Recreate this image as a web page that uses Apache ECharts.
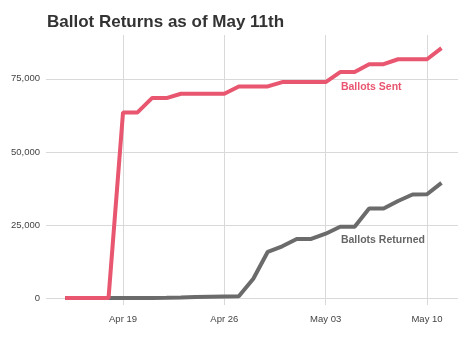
<!DOCTYPE html>
<html><head><meta charset="utf-8">
<script src="https://cdn.jsdelivr.net/npm/echarts@6/dist/echarts.min.js"></script>
<style>html,body{margin:0;padding:0;background:#fff}#c{width:474px;height:338px}</style>
</head><body><div id="c"></div>
<script>
// Days from Apr 15 to May 11 (index 0 = Apr 15)
const dayLabels = ['Apr 15','Apr 16','Apr 17','Apr 18','Apr 19','Apr 20','Apr 21','Apr 22','Apr 23','Apr 24','Apr 25','Apr 26','Apr 27','Apr 28','Apr 29','Apr 30','May 01','May 02','May 03','May 04','May 05','May 06','May 07','May 08','May 09','May 10','May 11'];
const ballotsSent = [0,0,0,0,63500,63500,68400,68400,69900,69900,69900,69900,72400,72400,72400,73900,73900,73900,73900,77300,77300,80000,80000,81700,81700,81700,85500];
const ballotsReturned = [0,0,0,0,0,0,0,50,150,300,400,500,600,6600,15800,17700,20200,20200,22000,24400,24400,30600,30600,33200,35400,35500,39400];
const xTickDays = [4,11,18,25];
const xTickLabels = ['Apr 19','Apr 26','May 03','May 10'];
const yTicks = [0,25000,50000,75000];

const sentData = ballotsSent.map((v,i)=>[i,v]);
const retData = ballotsReturned.map((v,i)=>[i,v]);
const pink = '#e8566f', gray = '#6b6b6b';
const chart = echarts.init(document.getElementById('c'));
chart.setOption({
  animation:false,
  title:{text:'Ballot Returns as of May 11th',left:42,top:9,textStyle:{fontFamily:'Liberation Sans',fontWeight:'bold',fontSize:17,color:'#333'}},
  grid:{left:46,right:16,top:35,bottom:33,containLabel:false},
  xAxis:{type:'value',min:-1.32,max:27.14,
    axisLine:{show:false},axisTick:{show:false,customValues:xTickDays},
    axisLabel:{customValues:xTickDays,formatter:v=>xTickLabels[xTickDays.indexOf(Math.round(v))]||'',fontFamily:'Liberation Sans',fontSize:9.5,color:'#444',margin:9},
    splitLine:{show:true,lineStyle:{color:'#d9d9d9',width:1}}},
  yAxis:{type:'value',min:-2400,max:90000,
    axisLine:{show:false},axisTick:{show:false,customValues:yTicks},
    axisLabel:{customValues:yTicks,formatter:v=>v.toLocaleString('en-US'),fontFamily:'Liberation Sans',fontSize:9.5,color:'#444',margin:6},
    splitLine:{show:true,lineStyle:{color:'#d9d9d9',width:1}}},
  series:[
    {type:'line',name:'Ballots Returned',data:retData,symbol:'none',lineStyle:{color:gray,width:4},z:2,
     markPoint:{symbol:'circle',symbolSize:0,data:[{coord:[19.05,19900],label:{show:true,position:'right',distance:0,formatter:'Ballots Returned',fontFamily:'Liberation Sans',fontWeight:'bold',fontSize:10.5,color:'#666'}}]}},
    {type:'line',name:'Ballots Sent',data:sentData,symbol:'none',lineStyle:{color:pink,width:4},z:3,
     markPoint:{symbol:'circle',symbolSize:0,data:[{coord:[19.05,72000],label:{show:true,position:'right',distance:0,formatter:'Ballots Sent',fontFamily:'Liberation Sans',fontWeight:'bold',fontSize:10.5,color:pink}}]}}
  ]
});
</script></body></html>
